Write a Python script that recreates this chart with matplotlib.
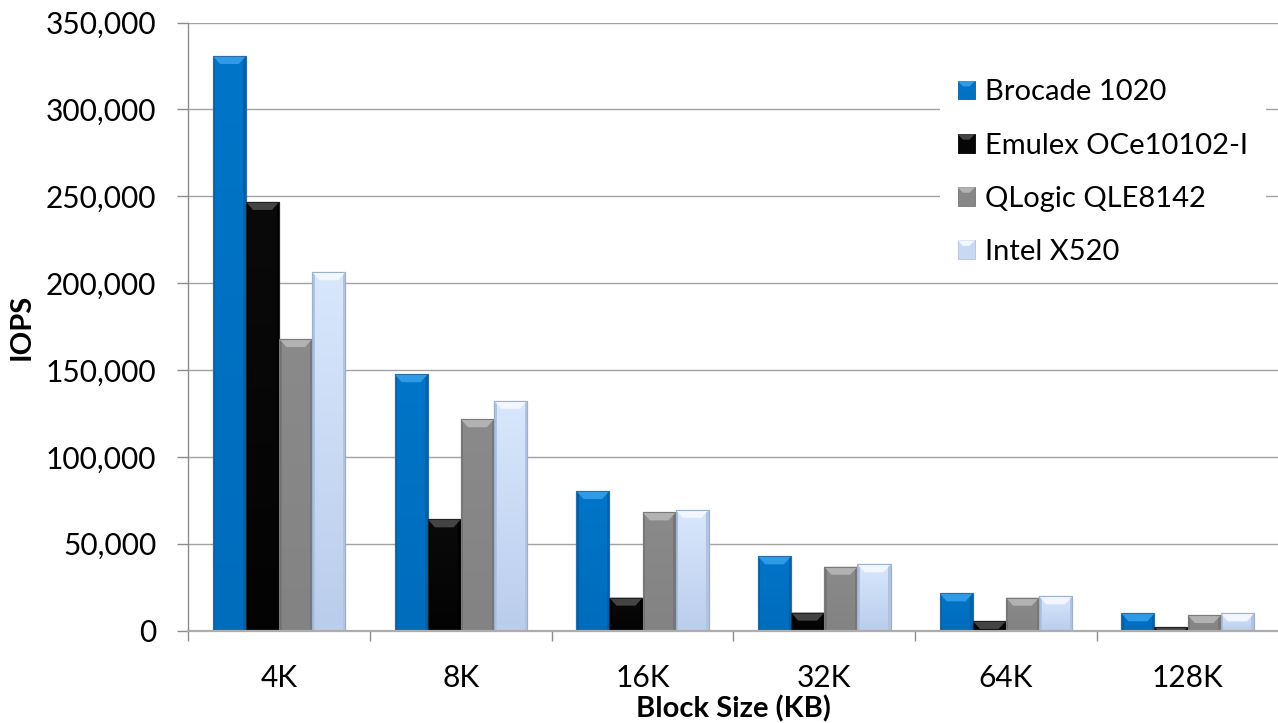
import numpy as np
import matplotlib
matplotlib.use("Agg")
import matplotlib.pyplot as plt
from matplotlib.patches import Polygon, Rectangle, Patch
from matplotlib.legend_handler import HandlerBase
from matplotlib.ticker import FuncFormatter, FixedLocator
from matplotlib.colors import LinearSegmentedColormap

# ---------------- data ----------------
categories = ["4K", "8K", "16K", "32K", "64K", "128K"]
series_names = ["Brocade 1020", "Emulex OCe10102-I", "QLogic QLE8142", "Intel X520"]
brocade = [330700, 147500, 80300, 42700, 21400, 9900]
emulex = [246700, 64000, 18900, 10300, 5500, 2000]
qlogic = [167800, 121600, 68000, 36700, 18900, 8900]
intel = [206200, 132300, 69500, 38100, 19700, 9900]
series_values = [brocade, emulex, qlogic, intel]
y_max = 350000
y_step = 50000

# ---------------- styles ----------------
main_colors = ["#0071C3", "#060606", "#878787", "#C8DAF3"]
top_colors = ["#2F9BE6", "#444444", "#B2B2B2", "#F2F7FF"]
side_colors = ["#0060A8", "#000000", "#767676", "#AFC3E3"]
edge_colors = ["#2A6FA8", "#222222", "#7A7A7A", "#9DB1CF"]
grad_top = ["#0075C8", "#0A0A0A", "#8A8A8A", "#D8E7FC"]
grad_bot = ["#006CBC", "#030303", "#838383", "#BACDEC"]

plt.rcParams["font.family"] = ["Lato", "DejaVu Sans"]

W, H, DPI = 1278, 723, 100
fig = plt.figure(figsize=(W / DPI, H / DPI), dpi=DPI)
ax_left_px, ax_right_px = 188.3, 1278.5
ax_bot_px, ax_top_px = 630.5, 22.5
ax = fig.add_axes([ax_left_px / W, 1 - ax_bot_px / H,
                   (ax_right_px - ax_left_px) / W, (ax_bot_px - ax_top_px) / H])

n_cat = len(categories)
ax.set_xlim(-0.5, n_cat - 0.5)
ax.set_ylim(0, y_max)

px_x = n_cat / (ax_right_px - ax_left_px)
px_y = y_max / (ax_bot_px - ax_top_px)

bar_w = 0.1825
x = np.arange(n_cat)
n_ser = len(series_values)

for i, vals in enumerate(series_values):
    off = (i - (n_ser - 1) / 2) * bar_w
    bars = ax.bar(x + off, vals, bar_w, color=main_colors[i],
                  edgecolor=edge_colors[i], linewidth=0.8, zorder=3)
    cmap = LinearSegmentedColormap.from_list("g%d" % i, [grad_bot[i], grad_top[i]])
    for p in bars:
        x0, w, h = p.get_x(), p.get_width(), p.get_height()
        grad = np.linspace(0, 1, 64).reshape(-1, 1)
        im = ax.imshow(grad, extent=[x0, x0 + w, 0, h], origin="lower",
                       aspect="auto", cmap=cmap, zorder=3.1, interpolation="bilinear")
        im.set_clip_path(p)
        s = 2.5 * px_x
        b = min(8 * px_y, h)
        ax.add_patch(Rectangle((x0, 0), s, h, facecolor=side_colors[i],
                               edgecolor="none", zorder=3.2))
        ax.add_patch(Rectangle((x0 + w - s, 0), s, h, facecolor=side_colors[i],
                               edgecolor="none", zorder=3.2))
        inset = (b / px_y) * px_x * 0.9
        ax.add_patch(Polygon([(x0, h), (x0 + w, h), (x0 + w - inset, h - b),
                              (x0 + inset, h - b)], closed=True,
                             facecolor=top_colors[i], edgecolor="none", zorder=3.3))
        ax.add_patch(Rectangle((x0, 0), w, h, facecolor="none",
                               edgecolor=edge_colors[i], linewidth=0.8, zorder=3.4))

ax.set_xlim(-0.5, n_cat - 0.5)
ax.set_ylim(0, y_max)

# axes styling
for sp in ["top", "right"]:
    ax.spines[sp].set_visible(False)
ax.spines["left"].set_color("#8C8C8C")
ax.spines["left"].set_linewidth(1.0)
ax.spines["bottom"].set_color("#ADADAD")
ax.spines["bottom"].set_linewidth(1.6)
ax.spines["bottom"].set_zorder(4)

ax.set_yticks(np.arange(0, y_max + 1, y_step))
ax.yaxis.set_major_formatter(FuncFormatter(lambda v, p: "{:,.0f}".format(v)))
ax.yaxis.grid(True, color="#A3A3A3", linewidth=1.0)
ax.set_axisbelow(True)
ax.tick_params(axis="y", which="major", length=8, width=1, color="#8C8C8C",
               pad=15, labelsize=21.5, labelcolor="black")

ax.set_xticks(x)
ax.set_xticklabels(categories)
ax.xaxis.set_minor_locator(FixedLocator(np.arange(-0.5, n_cat, 1.0)))
ax.tick_params(axis="x", which="major", length=0, pad=24, labelsize=21.5,
               labelcolor="black")
ax.tick_params(axis="x", which="minor", length=7.5, width=1, color="#8C8C8C")

ax.set_xlabel("Block Size (KB)", fontsize=21, fontweight="bold")
ax.set_ylabel("IOPS", fontsize=21, fontweight="bold")
ax.xaxis.label.set_va("center")
ax.yaxis.label.set_va("center")
ax.xaxis.set_label_coords((733 - ax_left_px) / (ax_right_px - ax_left_px),
                          (ax_bot_px - 709) / (ax_bot_px - ax_top_px))
ax.yaxis.set_label_coords((22 - ax_left_px) / (ax_right_px - ax_left_px), 0.5)


class BevelHandler(HandlerBase):
    def __init__(self, main, top, side):
        super().__init__()
        self.main, self.top, self.side = main, top, side

    def create_artists(self, legend, orig_handle, xdescent, ydescent,
                       width, height, fontsize, trans):
        x0, y0 = -xdescent, -ydescent
        rect = Rectangle((x0, y0), width, height, facecolor=self.main,
                         edgecolor=self.side, linewidth=0.6, transform=trans)
        b = height * 0.3
        poly = Polygon([(x0, y0 + height), (x0 + width, y0 + height),
                        (x0 + width - b, y0 + height - b), (x0 + b, y0 + height - b)],
                       closed=True, facecolor=self.top, edgecolor="none",
                       transform=trans)
        return [rect, poly]


handles = [Patch(facecolor=main_colors[i]) for i in range(n_ser)]
hmap = {handles[i]: BevelHandler(main_colors[i], top_colors[i], side_colors[i])
        for i in range(n_ser)}
leg = ax.legend(handles, series_names, handler_map=hmap, loc="upper left",
                bbox_to_anchor=(940 / W, 1 - 62 / H), bbox_transform=fig.transFigure,
                borderaxespad=0, borderpad=0.6, fontsize=21, frameon=True,
                fancybox=False, framealpha=1, facecolor="white", edgecolor="none",
                handlelength=0.6, handleheight=0.6, handletextpad=0.35,
                labelspacing=0.93)
leg.set_zorder(10)

fig.savefig("out.png", dpi=DPI, facecolor="white")
